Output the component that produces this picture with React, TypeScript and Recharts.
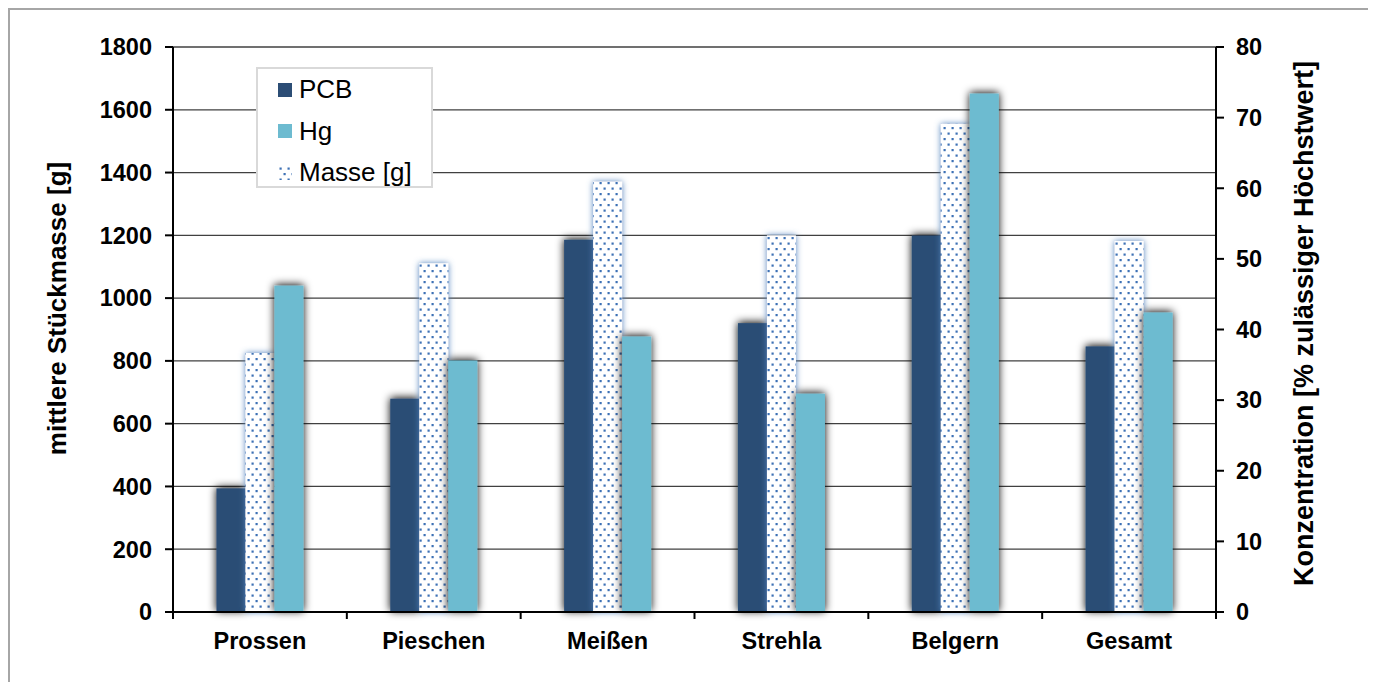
import { BarChart, Bar, XAxis, YAxis, CartesianGrid, Legend, Label } from 'recharts';

const categories = ['Prossen', 'Pieschen', 'Meißen', 'Strehla', 'Belgern', 'Gesamt'];
// Konzentration in % des zulässigen Höchstwerts (rechte Achse)
const pcbValues = [17.5, 30.2, 52.7, 40.9, 53.3, 37.6];
const hgValues = [46.2, 35.6, 39.0, 30.9, 73.4, 42.4];
// mittlere Stückmasse in g (linke Achse)
const masseValues = [825, 1111, 1371, 1200, 1555, 1182];

const massTicks = [0, 200, 400, 600, 800, 1000, 1200, 1400, 1600, 1800];
const concTicks = [0, 10, 20, 30, 40, 50, 60, 70, 80];
const legendOrder = ['PCB', 'Hg', 'Masse [g]'];

const data = categories.map((name, i) => ({
  name,
  pcb: pcbValues[i],
  masse: masseValues[i],
  hg: hgValues[i],
}));

const FONT = '"Liberation Sans", Arial, sans-serif';
const WIDTH = 1359;
const HEIGHT = 668;
const MARGIN = { top: 37, right: 53, bottom: 16, left: 0 };
const LEFT_AXIS_W = 163;
const RIGHT_AXIS_W = 100;
const PLOT_W = WIDTH - MARGIN.left - MARGIN.right - LEFT_AXIS_W - RIGHT_AXIS_W;
const BAND = PLOT_W / categories.length;

const PCB_COLOR = '#2c4d75';
const HG_COLOR = '#6dbbd0';
const DOT_COLOR = '#3d71b5';

function ShadowBar(props: any) {
  const { x, y, width, height, fill, filterId } = props;
  if (!height || height <= 0) return null;
  return <rect x={x} y={y} width={width} height={height} fill={fill} filter={`url(#${filterId})`} />;
}

function CategoryTick(props: any) {
  const { x, y, payload, index } = props;
  const last = index === categories.length - 1;
  return (
    <g>
      <line x1={x - BAND / 2} x2={x - BAND / 2} y1={y} y2={y + 7} stroke="#000" strokeWidth={2} />
      {last && <line x1={x + BAND / 2} x2={x + BAND / 2} y1={y} y2={y + 7} stroke="#000" strokeWidth={2} />}
      <text
        x={x}
        y={y + 29}
        textAnchor="middle"
        dominantBaseline="central"
        fontFamily={FONT}
        fontWeight="bold"
        fontSize={23.5}
        fill="#000"
      >
        {payload.value}
      </text>
    </g>
  );
}

function AxisTitle(props: any) {
  const { viewBox, value, dx, dy, size } = props;
  const cx = viewBox.x + dx;
  const cy = viewBox.y + viewBox.height / 2 + dy;
  return (
    <text
      x={cx}
      y={cy}
      transform={`rotate(-90 ${cx} ${cy})`}
      textAnchor="middle"
      dominantBaseline="central"
      fontFamily={FONT}
      fontWeight="bold"
      fontSize={size}
      fill="#000"
    >
      {value}
    </text>
  );
}

function DotPattern({ id }: { id: string }) {
  return (
    <pattern id={id} width="8" height="11" patternUnits="userSpaceOnUse">
      <rect width="8" height="11" fill="#fff" />
      <rect x="1.5" y="1.5" width="2.2" height="2.2" fill={DOT_COLOR} />
      <rect x="5.5" y="7" width="2.2" height="2.2" fill={DOT_COLOR} />
    </pattern>
  );
}

function LegendBox(props: any) {
  const items = [...(props.payload || [])].sort(
    (a: any, b: any) => legendOrder.indexOf(a.value) - legendOrder.indexOf(b.value)
  );
  return (
    <div
      style={{
        border: '2px solid #d9d9d9',
        background: '#fff',
        padding: '0 0 0 20px',
        boxSizing: 'border-box',
        width: 177,
        height: 121,
      }}
    >
      {items.map((item: any) => (
        <div
          key={item.value}
          style={{ display: 'flex', alignItems: 'center', height: 41.5, fontFamily: FONT, fontSize: 26, color: '#000' }}
        >
          <svg width={14} height={14} style={{ marginRight: 7 }}>
            {item.value === 'Masse [g]' ? (
              <rect width={14} height={14} fill="url(#dotsLegend)" />
            ) : (
              <rect width={14} height={14} fill={item.color} />
            )}
          </svg>
          <span>{item.value}</span>
        </div>
      ))}
    </div>
  );
}

export default function App() {
  return (
    <div
      style={{
        width: 1363,
        height: 680,
        border: '2px solid #a6a6a6',
        boxSizing: 'border-box',
        background: '#fff',
        position: 'relative',
      }}
    >
      <svg width={0} height={0} style={{ position: 'absolute' }}>
        <defs>
          <DotPattern id="dotsLegend" />
        </defs>
      </svg>
      <BarChart
        width={WIDTH}
        height={HEIGHT}
        data={data}
        margin={MARGIN}
        barGap={0}
        barCategoryGap="25%"
      >
        <defs>
          <DotPattern id="dots" />
          {/* dunkler Schlagschatten rund um die PCB- und Hg-Säulen */}
          <filter id="barShadow" x="-80%" y="-10%" width="260%" height="120%">
            <feDropShadow dx="0" dy="-1" stdDeviation="4" floodColor="#000" floodOpacity="1" />
          </filter>
          {/* bläulicher Schein um die gepunkteten Masse-Säulen */}
          <filter id="masseGlow" x="-80%" y="-10%" width="260%" height="120%">
            <feDropShadow dx="0" dy="0" stdDeviation="3" floodColor="#4f81bd" floodOpacity="1" />
          </filter>
        </defs>
        <CartesianGrid yAxisId="left" vertical={false} stroke="#404040" strokeWidth={1.3} />
        <XAxis
          dataKey="name"
          height={50}
          axisLine={{ stroke: '#000', strokeWidth: 2 }}
          tickLine={false}
          tickSize={0}
          tickMargin={0}
          tick={<CategoryTick />}
          interval={0}
        />
        <YAxis
          yAxisId="left"
          width={LEFT_AXIS_W}
          domain={[0, 1800]}
          ticks={massTicks}
          interval={0}
          axisLine={{ stroke: '#000', strokeWidth: 2 }}
          tickLine={{ stroke: '#000', strokeWidth: 2 }}
          tickSize={8}
          tickMargin={13}
          tick={{ fontFamily: FONT, fontWeight: 'bold', fontSize: 23.5, fill: '#000' }}
        >
          <Label content={<AxisTitle value="mittlere Stückmasse [g]" dx={47} dy={-21} size={26} />} />
        </YAxis>
        <YAxis
          yAxisId="right"
          orientation="right"
          width={RIGHT_AXIS_W}
          domain={[0, 80]}
          ticks={concTicks}
          interval={0}
          axisLine={{ stroke: '#000', strokeWidth: 2 }}
          tickLine={{ stroke: '#000', strokeWidth: 2 }}
          tickSize={8}
          tickMargin={12}
          tick={{ fontFamily: FONT, fontWeight: 'bold', fontSize: 23.5, fill: '#000' }}
        >
          <Label
            content={<AxisTitle value="Konzentration [% zulässiger Höchstwert]" dx={88} dy={-6} size={27} />}
          />
        </YAxis>
        <Legend
          content={<LegendBox />}
          layout="vertical"
          align="center"
          verticalAlign="middle"
          wrapperStyle={{ position: 'absolute', left: 246, top: 57, width: 177, height: 121 }}
        />
        <Bar
          yAxisId="right"
          dataKey="pcb"
          name="PCB"
          fill={PCB_COLOR}
          isAnimationActive={false}
          shape={<ShadowBar filterId="barShadow" />}
        />
        <Bar
          yAxisId="left"
          dataKey="masse"
          name="Masse [g]"
          fill="url(#dots)"
          isAnimationActive={false}
          shape={<ShadowBar filterId="masseGlow" />}
        />
        <Bar
          yAxisId="right"
          dataKey="hg"
          name="Hg"
          fill={HG_COLOR}
          isAnimationActive={false}
          shape={<ShadowBar filterId="barShadow" />}
        />
      </BarChart>
    </div>
  );
}
